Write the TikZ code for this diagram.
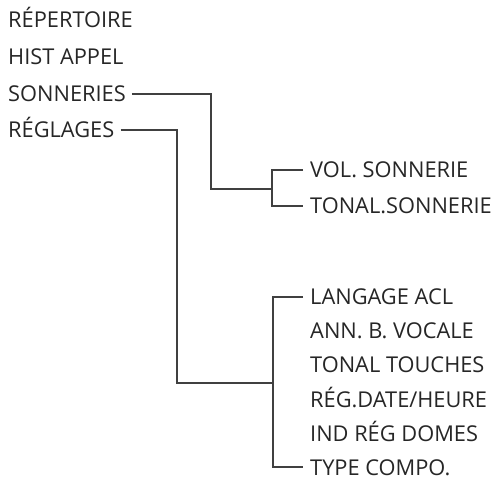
\documentclass[tikz,border=0pt]{standalone}
\usepackage{fontspec}
\setmainfont{Open Sans}
\begin{document}
\begin{tikzpicture}[x=1pt,y=1pt,
  lbl/.style={anchor=base west, inner sep=0pt, font=\fontsize{21.8}{24}\selectfont, text=black!85},
  wire/.style={draw=black!75, line width=1.1pt}]
\useasboundingbox (0,0) rectangle (500,487);
\node[lbl] (rep) at (8,459) {RÉPERTOIRE};
\node[lbl] (hist) at (8,422) {HIST APPEL};
\node[lbl] (son) at (8,385) {SONNERIES};
\node[lbl] (reg) at (8,349) {RÉGLAGES};
\node[lbl] (vol) at (310,309) {VOL. SONNERIE};
\node[lbl] (ton) at (310,273) {TONAL.SONNERIE};
\node[lbl] (lang) at (310,182) {LANGAGE ACL};
\node[lbl] (ann) at (310,148) {ANN. B. VOCALE};
\node[lbl] (tt) at (310,114) {TONAL TOUCHES};
\node[lbl] (date) at (310,80) {RÉG.DATE/HEURE};
\node[lbl] (ind) at (310,46) {IND RÉG DOMES};
\node[lbl] (typ) at (310,12) {TYPE COMPO.};
\coordinate (sA) at (211,298);
\coordinate (sB) at (272,298);
\coordinate (rA) at (177,104);
\coordinate (rB) at (273,104);
\draw[wire] ([shift={(6,8)}]son.base east) -| (sA) -- (sB);
\draw[wire] ([shift={(-7,8)}]vol.base west) -| (sB) |- ([shift={(-7,8)}]ton.base west);
\draw[wire] ([shift={(6,8)}]reg.base east) -| (rA) -- (rB);
\draw[wire] ([shift={(-7,8)}]lang.base west) -| (rB) |- ([shift={(-7,8)}]typ.base west);
\end{tikzpicture}
\end{document}
